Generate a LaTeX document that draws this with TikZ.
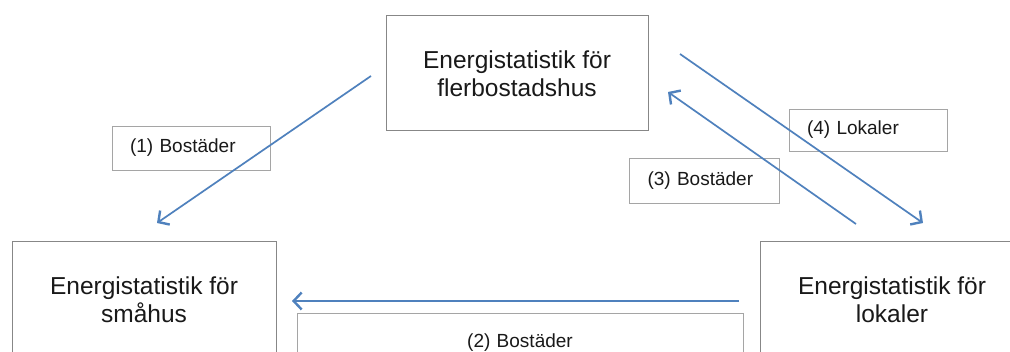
\documentclass[tikz,border=0pt]{standalone}
\usepackage{fontspec}
\setmainfont{Liberation Sans}
\usetikzlibrary{arrows.meta}
\definecolor{arrowblue}{RGB}{79,129,189}
\definecolor{boxgray}{RGB}{135,135,135}
\definecolor{lblgray}{RGB}{165,165,165}
\definecolor{txt}{RGB}{25,25,25}
\tikzset{
  mainbox/.style={draw=boxgray, line width=1pt, rectangle, minimum height=115pt,
    align=center, text=txt, inner sep=0pt, font=\fontsize{24.5}{27.5}\selectfont},
  lblbox/.style={draw=lblgray, line width=0.9pt, rectangle, inner ysep=0pt, inner xsep=18pt,
    align=left, text=txt, font=\fontsize{19}{22}\selectfont},
  flow/.style={draw=arrowblue, line width=1.7pt,
    -{Straight Barb[length=8pt,width=17pt,line width=2.4pt]}}
}
\begin{document}
\begin{tikzpicture}[x=1pt,y=-1pt]
\useasboundingbox (0,0) rectangle (1010,352);
\clip (0,0) rectangle (1010,352);
\fill[white] (0,0) rectangle (1010,352);
% main boxes
\node[mainbox, minimum width=262pt] (top) at (517,73.5) {Energistatistik för\\flerbostadshus};
\node[mainbox, minimum width=264pt] (left) at (144,299.5) {Energistatistik för\\småhus};
\node[mainbox, minimum width=264pt] (right) at (892,299.5) {Energistatistik för\\lokaler};
% label boxes
\node[lblbox, text width=122pt, minimum height=44pt] (l1) at (191,148) {(1) Bostäder};
\node[lblbox, text width=410pt, align=center, minimum height=60pt] (l2) at (520,343) {(2) Bostäder};
\node[lblbox, text width=114pt, minimum height=45pt] (l3) at (704.5,180.5) {(3) Bostäder};
\node[lblbox, text width=122pt, minimum height=42pt] (l4) at (868,130) {(4) Lokaler};
% arrow end points
\coordinate (a1s) at (371,76);
\coordinate (a1e) at (157,223);
\coordinate (a2s) at (739,301);
\coordinate (a2e) at (292,301);
\coordinate (a3s) at (856,224);
\coordinate (a3e) at (668,92);
\coordinate (a4s) at (680,54);
\coordinate (a4e) at (923,223);
\draw[flow] (a1s) -- (a1e);
\draw[flow] (a2s) -- (a2e);
\draw[flow] (a3s) -- (a3e);
\draw[flow] (a4s) -- (a4e);
\end{tikzpicture}
\end{document}
